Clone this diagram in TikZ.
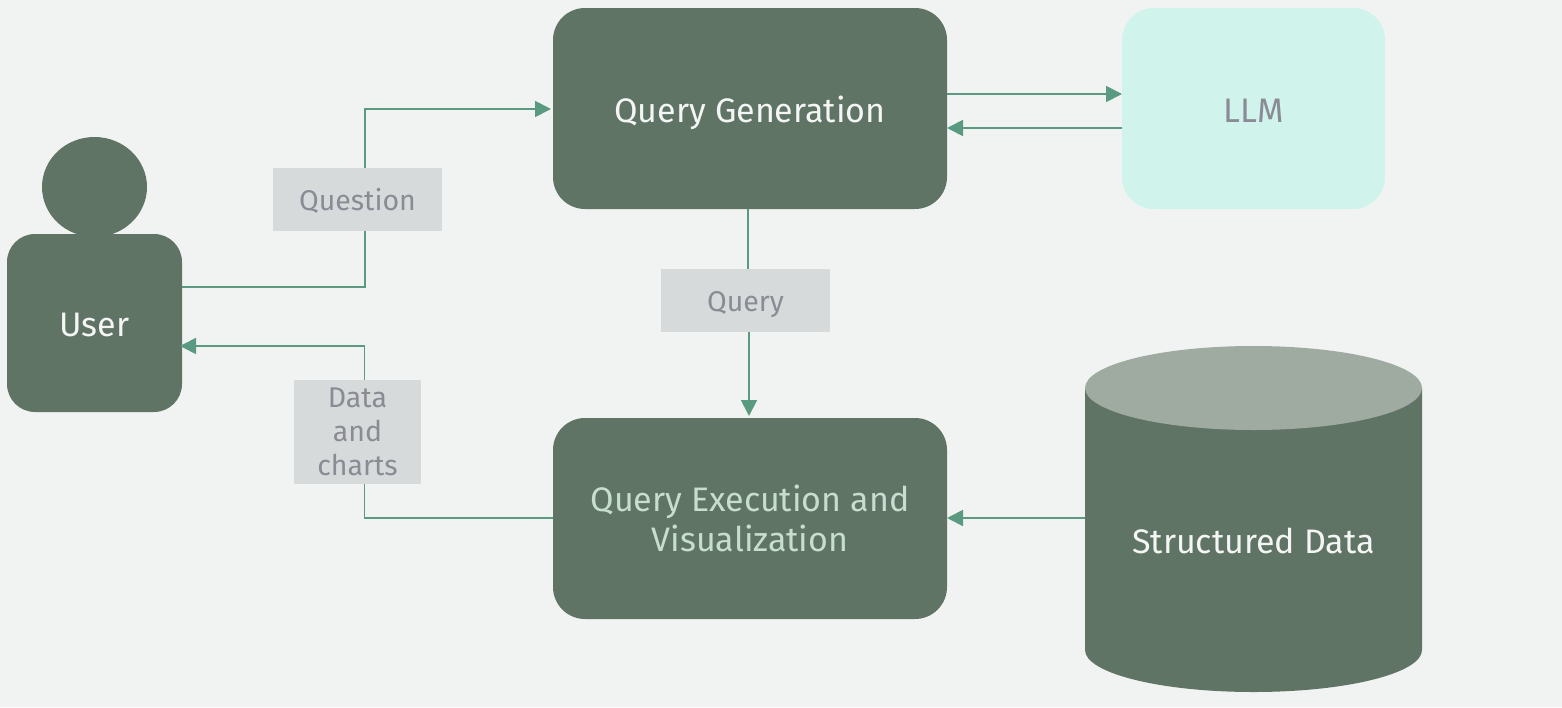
\documentclass[tikz,border=0pt]{standalone}
\usepackage{fontspec}
\setmainfont{Fira Sans}
\usetikzlibrary{
arrows.meta,
positioning,
shapes.geometric
}
\definecolor{FlowBack}{HTML}{F1F3F2}
\definecolor{FlowBox}{HTML}{5F7464}
\definecolor{FlowTop}{HTML}{9FABA0}
\definecolor{FlowMint}{HTML}{D0F3EC}
\definecolor{FlowTag}{HTML}{D7DADB}
\definecolor{FlowLine}{HTML}{5A9A80}
\definecolor{FlowGray}{HTML}{8A8B94}
\definecolor{FlowPale}{HTML}{C6DDD0}
\definecolor{FlowWhite}{HTML}{F4F6F5}
\tikzset{
flowblock/.style={fill=FlowBox, text=FlowWhite, rounded corners=32pt, align=center,
  minimum height=201pt, minimum width=394pt, inner sep=0pt, outer sep=0pt, font=\fontsize{34}{40}\selectfont},
flowllm/.style={flowblock, fill=FlowMint, text=FlowGray, minimum width=263pt},
flowtag/.style={fill=FlowTag, text=FlowGray, align=center, inner sep=0pt, outer sep=0pt,
  font=\fontsize{28.5}{34}\selectfont},
flowarrow/.style={-{Triangle[length=16pt, width=16pt]}, line width=1.8pt, draw=FlowLine},
flowline/.style={line width=1.8pt, draw=FlowLine}
}
\begin{document}
\begin{tikzpicture}[x=1pt, y=-1pt]
\fill[FlowBack] (0,0) rectangle (1562,707);
\useasboundingbox (0,0) rectangle (1562,707);
\node[flowblock, text height=33pt, text depth=6pt] (qgen) at (750,108.5) {Query Generation};
\node[flowllm, text height=33pt, text depth=6pt, right=175pt of qgen] (llm) {LLM};
\node[flowblock, text=FlowPale, below=209pt of qgen] (qexec) {Query Execution and\\Visualization};
\node[ellipse, fill=FlowBox, minimum width=105pt, minimum height=100pt, inner sep=0pt, outer sep=0pt] (head) at (94.5,187) {};
\node[flowblock, text height=32pt, text depth=6pt, rounded corners=28pt, minimum width=175pt, minimum height=178pt] (user) at (94.5,323) {User};
% cylinder
\fill[FlowBox] (1085,388) -- (1085,650) arc (180:360:168.5pt and 42pt) -- (1422,388) -- cycle;
\fill[FlowTop] (1253.5,388) ellipse (168.5pt and 42pt);
\node[text=FlowWhite, minimum width=337pt, inner sep=0pt, outer sep=0pt, font=\fontsize{34}{40}\selectfont] (data) at (1253.5,541) {Structured Data};
\node[flowtag, text height=28pt, text depth=6pt, minimum width=169pt, minimum height=63pt] (question) at (357.5,199.5) {Question};
\node[flowtag, text height=28pt, text depth=6pt, minimum width=169pt, minimum height=63pt] (query) at (745.5,300.5) {Query};
\node[flowtag, minimum width=127pt, minimum height=104pt] (charts) at (357.5,432) {Data\\and\\charts};

\draw[flowline] ([yshift=36pt]user.east) -| ([xshift=7.5pt]question.south);
\draw[flowarrow, shorten >=2pt] ([xshift=7.5pt]question.north) |- ([yshift=-.5pt]qgen.west);
\draw[flowarrow] ([yshift=14.5pt]qgen.east) -- ([yshift=14.5pt]llm.west);
\draw[flowarrow] ([yshift=-19.5pt]llm.west) -- ([yshift=-19.5pt]qgen.east);
\draw[flowline] ([xshift=-2pt]qgen.south) -- ([xshift=2.5pt]query.north);
\draw[flowarrow, shorten >=2pt] ([xshift=3.5pt]query.south) -- ([xshift=-1pt]qexec.north);
\draw[flowline] ([yshift=.5pt]qexec.west) -| ([xshift=7pt]charts.south);
\draw[flowarrow, shorten >=-2pt] ([xshift=7pt]charts.north) |- ([yshift=-23pt]user.east);
\draw[flowarrow] ([yshift=.5pt]data.west |- qexec.west) -- ([yshift=.5pt]qexec.east);
\end{tikzpicture}
\end{document}
